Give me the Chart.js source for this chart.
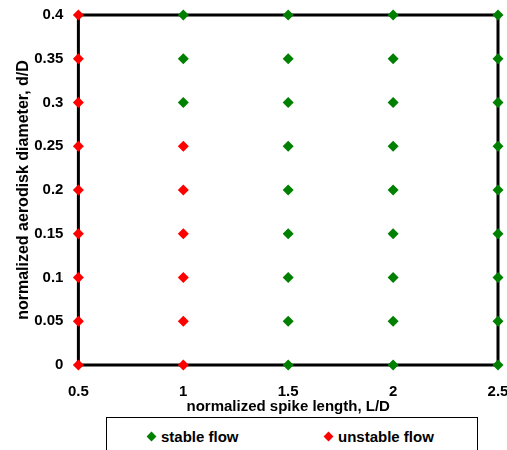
<!DOCTYPE html>
<html>
<head>
<meta charset="utf-8">
<script src="https://cdn.jsdelivr.net/npm/chart.js@4"></script>
<style>
  html, body { margin: 0; padding: 0; overflow: hidden; background: #fff; }
  #wrap { position: absolute; left: 0; top: 0; width: 507px; height: 417px; }
  #legend {
    position: absolute; left: 106px; top: 417px; width: 372px; height: 60px;
    border: 1px solid #000; box-sizing: border-box;
    font: bold 15px "Liberation Sans", Arial, sans-serif; color: #000;
  }
  .item { position: absolute; top: 10px; white-space: nowrap; }
  .item i {
    display: inline-block; width: 7px; height: 7px; transform: rotate(45deg);
    margin-right: 6px; vertical-align: 2px;
  }
</style>
</head>
<body>
<div id="wrap"><canvas id="flowChart"></canvas></div>
<div id="legend"></div>
<script>
// normalized spike length L/D (x) and normalized aerodisk diameter d/D (y)
const spikeLengths = [0.5, 1, 1.5, 2, 2.5];
const diskDiameters = [0, 0.05, 0.1, 0.15, 0.2, 0.25, 0.3, 0.35, 0.4];

// flow state per spike length, one letter per diameter (S = stable, U = unstable)
const flowStates = [
    'UUUUUUUUU', // L/D 0.5
    'UUUUUUSSS', // L/D 1
    'SSSSSSSSS', // L/D 1.5
    'SSSSSSSSS', // L/D 2
    'SSSSSSSSS'  // L/D 2.5
];

const seriesNames = ['stable flow', 'unstable flow'];
const seriesColors = ['#008000', '#ff0000'];

const stablePoints = [];
const unstablePoints = [];
spikeLengths.forEach((L, i) => {
    diskDiameters.forEach((d, j) => {
        const p = { x: L, y: d };
        if (flowStates[i][j] === 'S') stablePoints.push(p);
        else unstablePoints.push(p);
    });
});

const family = '"Liberation Sans", Arial, sans-serif';
const font = { family: family, size: 15, weight: 'bold' };
const yTitleFont = { family: family, size: 16, weight: 'bold' };

const fmt = value => String(+value.toFixed(2));

// black frame round the plot area, under the markers
const frame = {
    id: 'frame',
    beforeDatasetsDraw(chart) {
        const a = chart.chartArea;
        const ctx = chart.ctx;
        ctx.save();
        ctx.strokeStyle = '#000';
        ctx.lineWidth = 3;
        ctx.strokeRect(a.left, a.top, a.right - a.left, a.bottom - a.top);
        ctx.restore();
    }
};

const ctx = document.getElementById('flowChart').getContext('2d');

new Chart(ctx, {
    type: 'scatter',
    data: {
        datasets: [{
            label: seriesNames[0],
            data: stablePoints,
            backgroundColor: seriesColors[0],
            borderColor: seriesColors[0],
            borderWidth: 0,
            pointStyle: 'rectRot',
            pointRadius: 5.5,
            pointHoverRadius: 5.5,
            clip: false
        }, {
            label: seriesNames[1],
            data: unstablePoints,
            backgroundColor: seriesColors[1],
            borderColor: seriesColors[1],
            borderWidth: 0,
            pointStyle: 'rectRot',
            pointRadius: 5.5,
            pointHoverRadius: 5.5,
            clip: false
        }]
    },
    options: {
        responsive: true,
        maintainAspectRatio: false,
        animation: false,
        layout: { padding: { top: 15, right: 0, left: 4, bottom: 1 } },
        scales: {
            x: {
                min: 0.5,
                max: 2.5,
                grid: { display: false, drawTicks: false },
                border: { display: false },
                ticks: { stepSize: 0.5, color: '#000', font: font, padding: 18, maxRotation: 0, callback: fmt },
                title: { display: true, text: 'normalized spike length, L/D', color: '#000', font: font, padding: { top: -21, bottom: 0 } },
                afterFit(scale) { scale.paddingRight = 9; }
            },
            y: {
                min: 0,
                max: 0.4,
                grid: { display: false, drawTicks: false },
                border: { display: false },
                ticks: { stepSize: 0.05, color: '#000', font: font, padding: 15, callback: fmt },
                title: { display: true, text: 'normalized aerodisk diameter, d/D', color: '#000', font: yTitleFont, padding: { top: 10, bottom: -14 } },
                afterFit(scale) { scale.paddingTop = 0; scale.paddingBottom = 0; }
            }
        },
        plugins: {
            legend: { display: false },
            tooltip: { enabled: false }
        }
    },
    plugins: [frame]
});

// legend below the chart
const legendEl = document.getElementById('legend');
const itemLefts = [41, 218];
seriesNames.forEach((name, i) => {
    const item = document.createElement('span');
    item.className = 'item';
    item.style.left = itemLefts[i] + 'px';
    item.innerHTML = '<i style="background:' + seriesColors[i] + '"></i>' + name;
    legendEl.appendChild(item);
});
</script>
</body>
</html>
